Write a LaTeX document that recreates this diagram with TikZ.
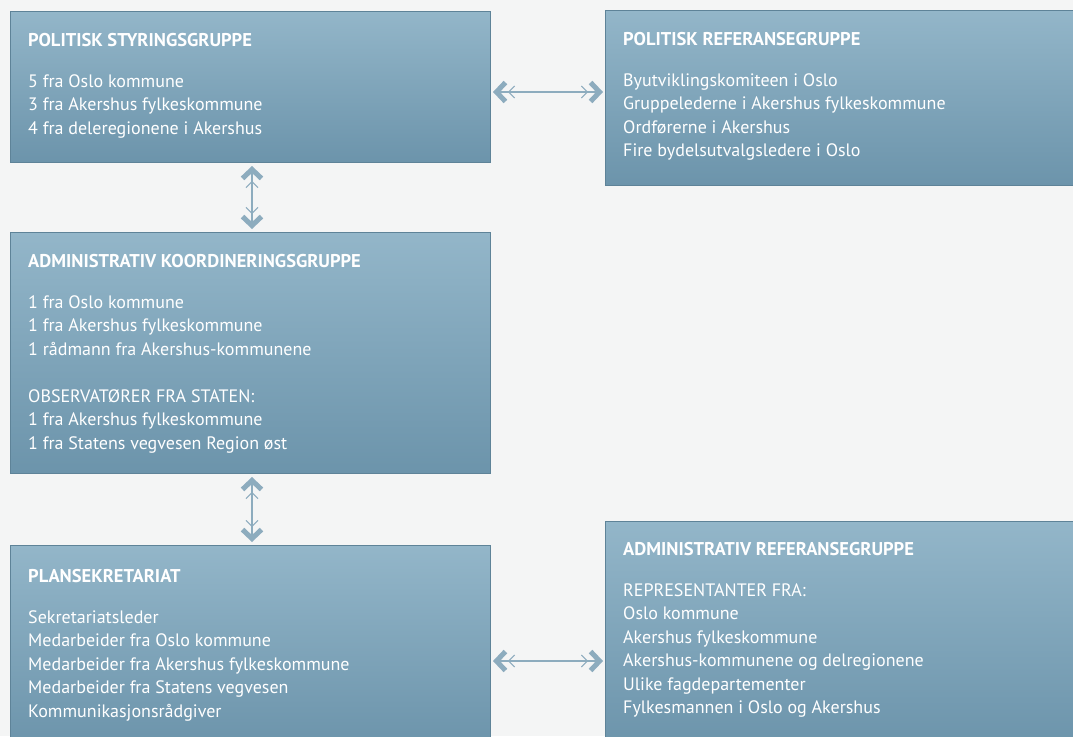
\documentclass[tikz,border=0pt]{standalone}
\usepackage{fontspec}
\setmainfont{PT Sans}
\usetikzlibrary{arrows.meta}
\definecolor{boxtop}{HTML}{93B6C9}
\definecolor{boxbot}{HTML}{6C94AB}
\definecolor{boxedge}{HTML}{5E8398}
\definecolor{arrcol}{HTML}{8DACBE}
\definecolor{bgcol}{HTML}{F4F5F5}
\newcommand{\ttl}[1]{{\fontsize{18.5}{23.5}\selectfont\bfseries #1}}
\begin{document}
\begin{tikzpicture}[x=1pt,y=-1pt,
  panel/.style={rectangle, draw=boxedge, line width=0.8pt, top color=boxtop, bottom color=boxbot, inner sep=0pt, outer sep=0pt, anchor=north west},
  txt/.style={anchor=base west, text=white, inner sep=0pt, font=\fontsize{18}{23.5}\selectfont},
  dbl/.style={arrcol, line width=1.5pt,
    {Straight Barb[length=9pt,width=19pt,line width=5pt] Straight Barb[length=6pt,width=12pt,line width=1pt]}-{Straight Barb[length=6pt,width=12pt,line width=1pt] Straight Barb[length=9pt,width=19pt,line width=5pt]}}
]
\useasboundingbox (0,0) rectangle (1073,736);
\clip (0,0) rectangle (1073,736);
\fill[bgcol] (0,0) rectangle (1073,736);

% boxes
\node[panel, minimum width=480pt, minimum height=151pt] (ps) at (10,11) {};
\node[panel, minimum width=480pt, minimum height=175pt] (pr) at (605,10) {};
\node[panel, minimum width=480pt, minimum height=241pt] (ak) at (10,232) {};
\node[panel, minimum width=480pt, minimum height=200pt] (pl) at (10,545) {};
\node[panel, minimum width=480pt, minimum height=225pt] (ar) at (605,521) {};

% texts
\node[txt] (tps) at (28,46) {\begin{tabular}[t]{@{}l@{}}\ttl{POLITISK STYRINGSGRUPPE}\\[17.5pt]
5 fra Oslo kommune\\
3 fra Akershus fylkeskommune\\
4 fra deleregionene i Akershus\end{tabular}};
\node[txt] (tpr) at (623,45) {\begin{tabular}[t]{@{}l@{}}\ttl{POLITISK REFERANSEGRUPPE}\\[17.5pt]
Byutviklingskomiteen i Oslo\\
Gruppelederne i Akershus fylkeskommune\\
Ordførerne i Akershus\\
Fire bydelsutvalgsledere i Oslo\end{tabular}};
\node[txt] (tak) at (28,267) {\begin{tabular}[t]{@{}l@{}}\ttl{ADMINISTRATIV KOORDINERINGSGRUPPE}\\[17.5pt]
1 fra Oslo kommune\\
1 fra Akershus fylkeskommune\\
1 rådmann fra Akershus-kommunene\\[23.5pt]
OBSERVATØRER FRA STATEN:\\
1 fra Akershus fylkeskommune\\
1 fra Statens vegvesen Region øst\end{tabular}};
\node[txt] (tpl) at (28,582) {\begin{tabular}[t]{@{}l@{}}\ttl{PLANSEKRETARIAT}\\[17.5pt]
Sekretariatsleder\\
Medarbeider fra Oslo kommune\\
Medarbeider fra Akershus fylkeskommune\\
Medarbeider fra Statens vegvesen\\
Kommunikasjonsrådgiver\end{tabular}};
\node[txt] (tar) at (623,555) {\begin{tabular}[t]{@{}l@{}}\ttl{ADMINISTRATIV REFERANSEGRUPPE}\\[17.5pt]
REPRESENTANTER FRA:\\
Oslo kommune\\
Akershus fylkeskommune\\
Akershus-kommunene og delregionene\\
Ulike fagdepartementer\\
Fylkesmannen i Oslo og Akershus\end{tabular}};

% connectors
\coordinate (h1) at (0,92);
\coordinate (h2) at (0,661);
\coordinate (v1) at (252,0);
\draw[dbl, shorten <=3pt, shorten >=2pt] (ps.east |- h1) -- (pr.west |- h1);
\draw[dbl, shorten <=3pt, shorten >=2pt] (pl.east |- h2) -- (ar.west |- h2);
\draw[dbl, shorten <=4pt, shorten >=3pt] (v1 |- ps.south) -- (v1 |- ak.north);
\draw[dbl, shorten <=4pt, shorten >=3pt] (v1 |- ak.south) -- (v1 |- pl.north);
\end{tikzpicture}
\end{document}
